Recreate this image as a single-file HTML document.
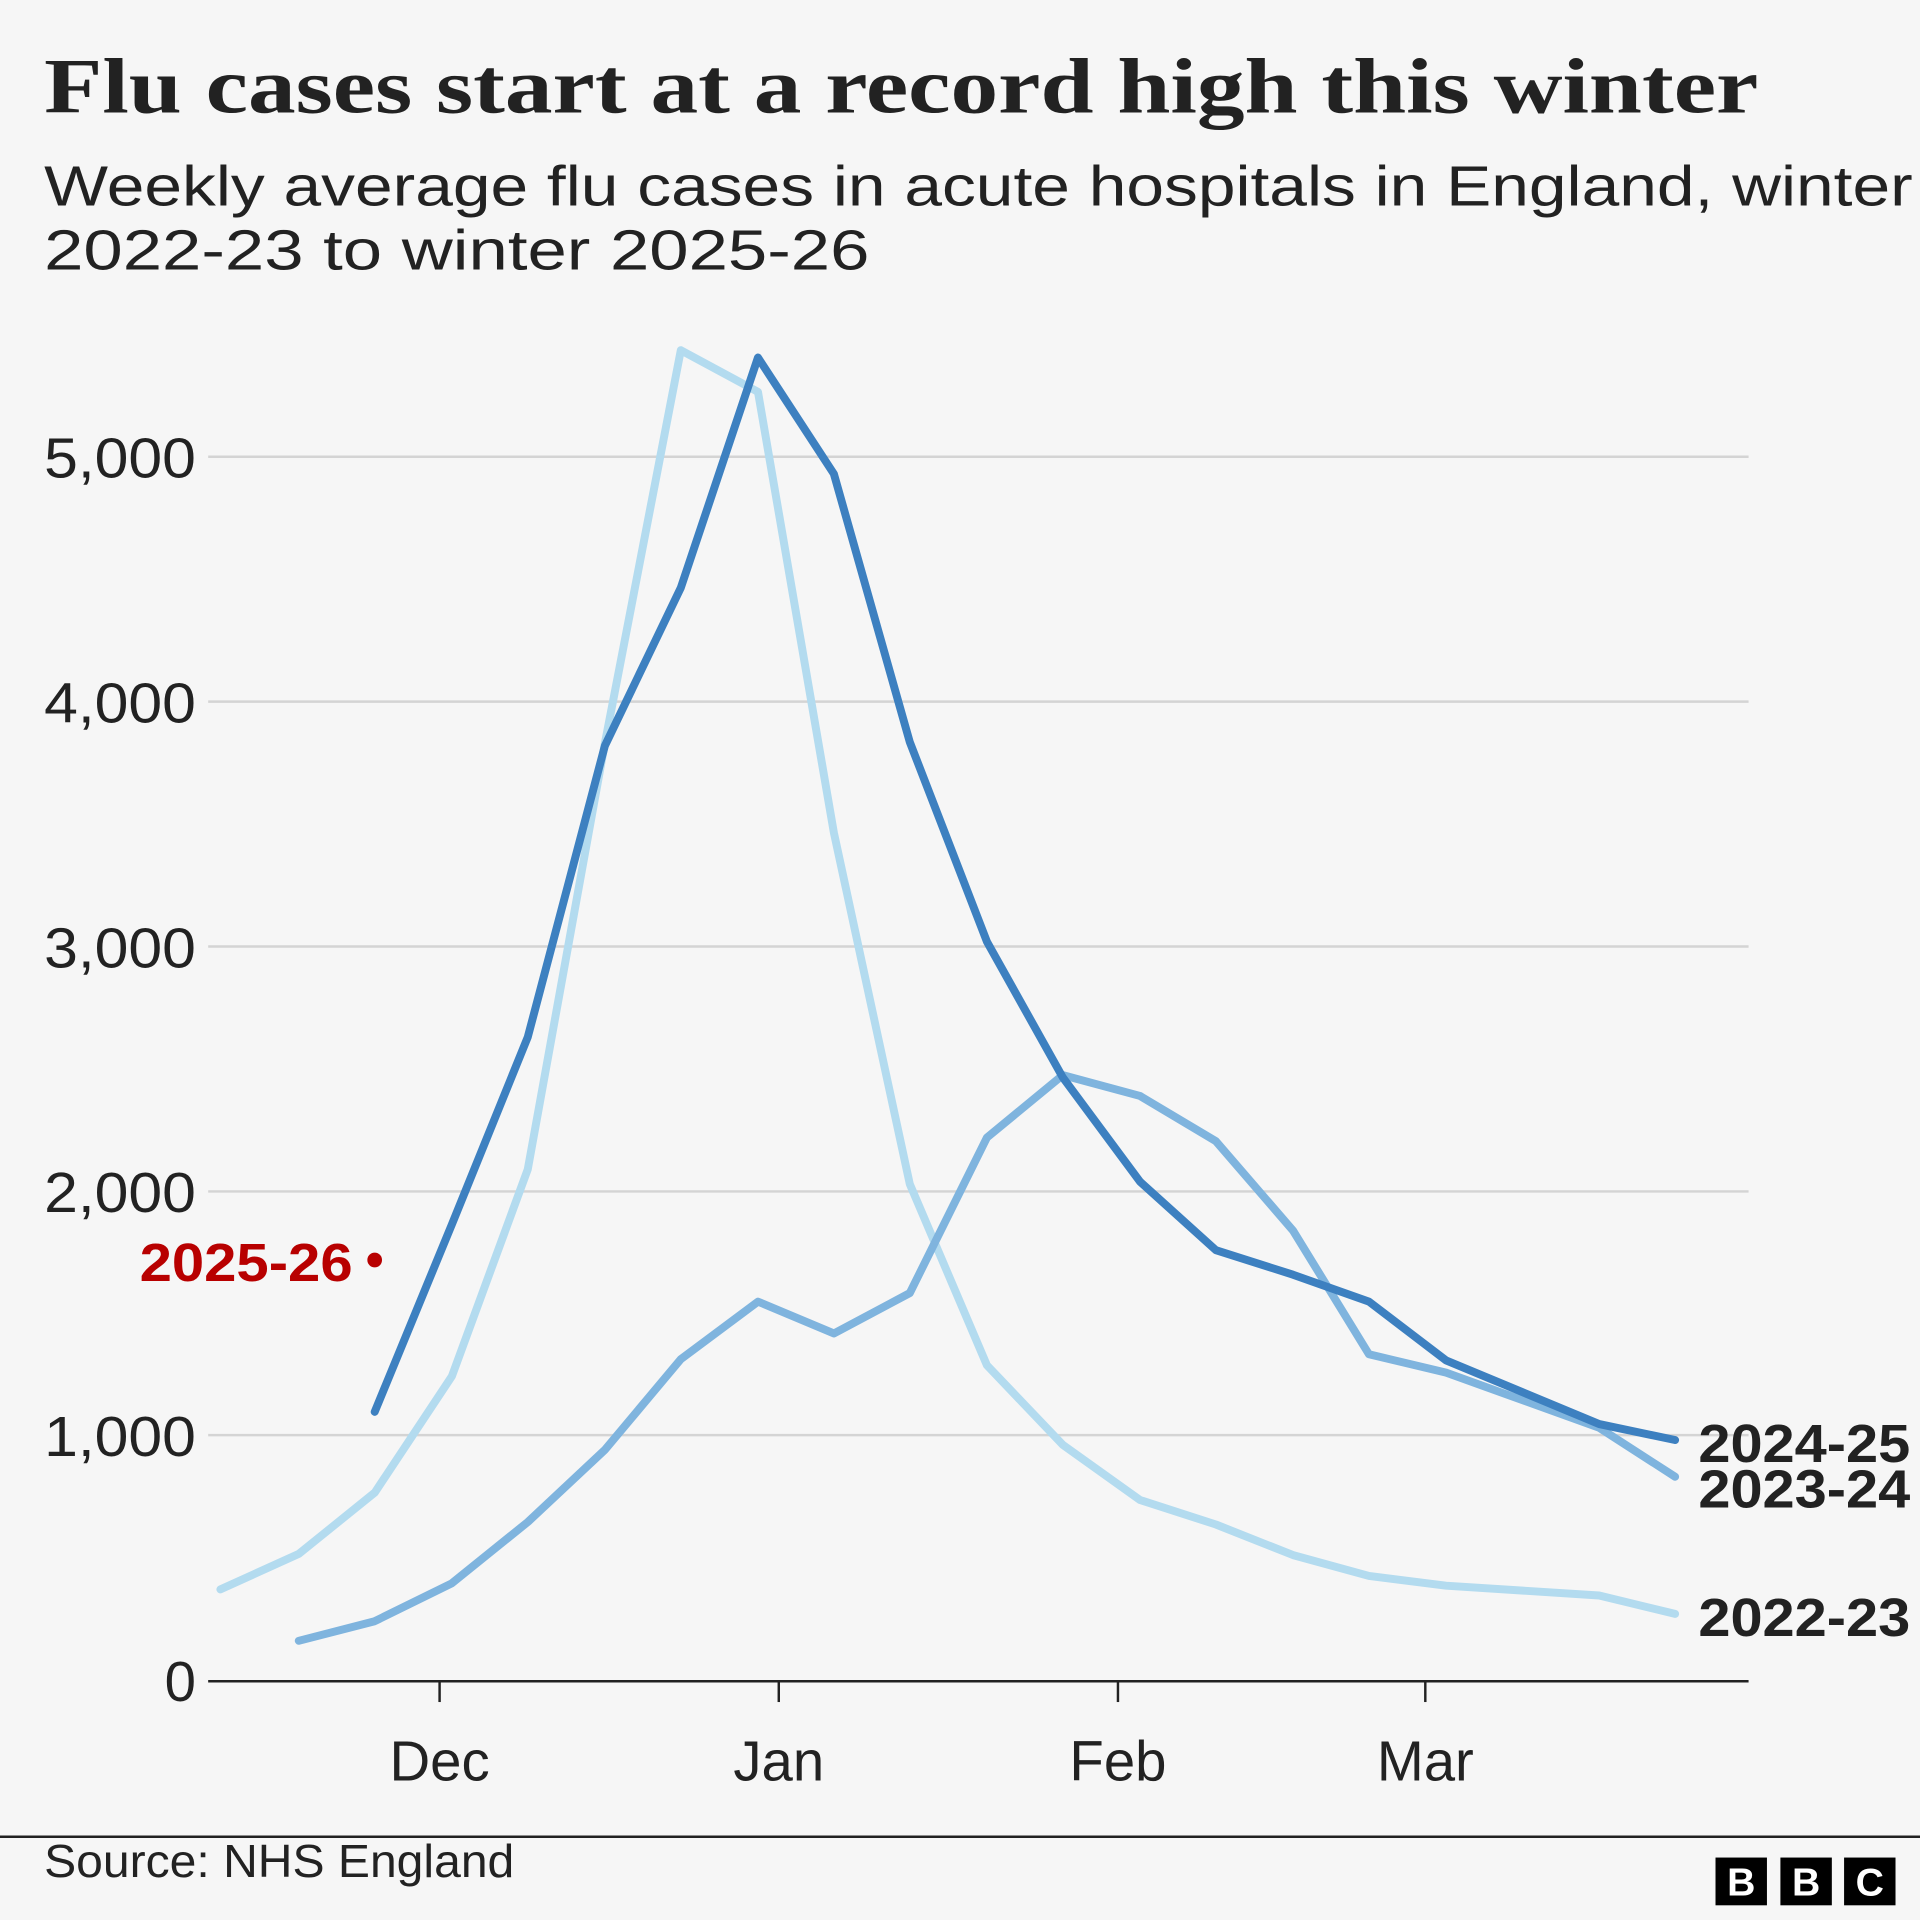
<!DOCTYPE html>
<html><head><meta charset="utf-8"><style>
html,body{margin:0;padding:0;background:#f6f6f6;}
svg{display:block;}
</style></head><body>
<svg width="1920" height="1920" viewBox="0 0 1568 1568" xmlns="http://www.w3.org/2000/svg">
<rect width="1568" height="1568" fill="#f6f6f6"/>
<text x="36" y="92" font-family="Liberation Serif, serif" font-weight="bold" font-size="64" fill="#222" textLength="1400" lengthAdjust="spacingAndGlyphs">Flu cases start at a record high this winter</text>
<text x="36" y="168" font-family="Liberation Sans, sans-serif" font-size="46" fill="#222" textLength="1526" lengthAdjust="spacingAndGlyphs">Weekly average flu cases in acute hospitals in England, winter</text>
<text x="36" y="220" font-family="Liberation Sans, sans-serif" font-size="46" fill="#222" textLength="674" lengthAdjust="spacingAndGlyphs">2022-23 to winter 2025-26</text>
<g stroke="#d4d4d4" stroke-width="2">
<line x1="170" y1="373" x2="1428" y2="373"/>
<line x1="170" y1="573" x2="1428" y2="573"/>
<line x1="170" y1="773" x2="1428" y2="773"/>
<line x1="170" y1="973" x2="1428" y2="973"/>
<line x1="170" y1="1172" x2="1428" y2="1172"/>
</g>
<g font-family="Liberation Sans, sans-serif" font-size="46" fill="#222" text-anchor="end">
<text x="160" y="390" textLength="124" lengthAdjust="spacingAndGlyphs">5,000</text>
<text x="160" y="590" textLength="124" lengthAdjust="spacingAndGlyphs">4,000</text>
<text x="160" y="790" textLength="124" lengthAdjust="spacingAndGlyphs">3,000</text>
<text x="160" y="990" textLength="124" lengthAdjust="spacingAndGlyphs">2,000</text>
<text x="160" y="1189" textLength="124" lengthAdjust="spacingAndGlyphs">1,000</text>
<text x="160" y="1389">0</text>
</g>
<line x1="170" y1="1373" x2="1428" y2="1373" stroke="#222" stroke-width="2"/>
<g stroke="#222" stroke-width="2">
<line x1="359" y1="1373" x2="359" y2="1390"/>
<line x1="636" y1="1373" x2="636" y2="1390"/>
<line x1="913" y1="1373" x2="913" y2="1390"/>
<line x1="1164" y1="1373" x2="1164" y2="1390"/>
</g>
<g font-family="Liberation Sans, sans-serif" font-size="46" fill="#222" text-anchor="middle">
<text x="359" y="1454">Dec</text>
<text x="636" y="1454">Jan</text>
<text x="913" y="1454">Feb</text>
<text x="1164" y="1454">Mar</text>
</g>
<g fill="none" stroke-width="6.5" stroke-linecap="round" stroke-linejoin="round">
<polyline stroke="#b3dbef" points="180,1298 244,1269 306,1219 369,1124 431,955 494,607 556,286 619,320 681,680 743,967 806,1115 868,1180 931,1225 993,1245 1056,1270 1118,1287 1181,1295 1306,1303 1368,1318"/>
<polyline stroke="#7fb4de" points="244,1340 306,1324 369,1293 431,1243 494,1184 556,1110 619,1063 681,1089 743,1056 806,929 868,878 931,895 993,932 1056,1005 1118,1106 1181,1121 1306,1166 1368,1206"/>
<polyline stroke="#3d80c0" points="306,1153 369,1000 431,847 494,609 556,480 619,292 681,387 743,606 806,769 868,880 931,965 993,1021 1056,1041 1118,1063 1181,1111 1306,1163 1368,1176"/>
</g>
<circle cx="306" cy="1029" r="6" fill="#b80000"/>
<text x="288" y="1046" font-family="Liberation Sans, sans-serif" font-weight="bold" font-size="44" fill="#b80000" text-anchor="end" textLength="174" lengthAdjust="spacingAndGlyphs">2025-26</text>
<g font-family="Liberation Sans, sans-serif" font-weight="bold" font-size="44" fill="#222">
<text x="1387" y="1194" textLength="173" lengthAdjust="spacingAndGlyphs">2024-25</text>
<text x="1387" y="1231" textLength="173" lengthAdjust="spacingAndGlyphs">2023-24</text>
<text x="1387" y="1336" textLength="173" lengthAdjust="spacingAndGlyphs">2022-23</text>
</g>
<line x1="0" y1="1500" x2="1568" y2="1500" stroke="#222" stroke-width="2"/>
<text x="36" y="1533" font-family="Liberation Sans, sans-serif" font-size="38" fill="#222" textLength="384" lengthAdjust="spacingAndGlyphs">Source: NHS England</text>
<g font-family="Liberation Sans, sans-serif" font-weight="bold" font-size="32" fill="#fff" text-anchor="middle">
<rect x="1401" y="1517" width="42" height="39" fill="#000"/><text x="1422" y="1548">B</text>
<rect x="1454" y="1517" width="42" height="39" fill="#000"/><text x="1475" y="1548">B</text>
<rect x="1506" y="1517" width="42" height="39" fill="#000"/><text x="1527" y="1548">C</text>
</g>
</svg>
</body></html>
